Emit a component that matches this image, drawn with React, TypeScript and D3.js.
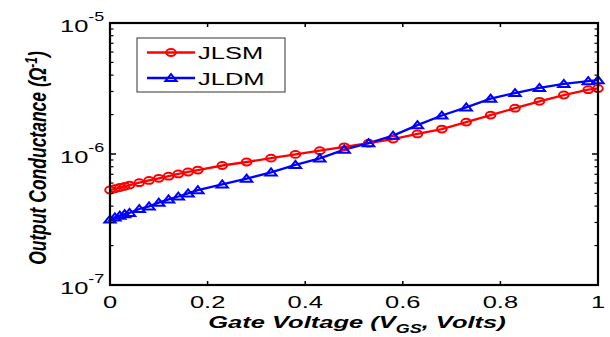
import React from "react";
import * as d3 from "d3";

const xVals = [0, 0.01, 0.02, 0.03, 0.04, 0.06, 0.08, 0.1, 0.12, 0.14, 0.16, 0.18, 0.23, 0.28, 0.33, 0.38, 0.43, 0.48, 0.53, 0.58, 0.63, 0.68, 0.73, 0.78, 0.83, 0.88, 0.93, 0.98, 1.0];
const jlsm = [5.31e-7, 5.43e-7, 5.55e-7, 5.67e-7, 5.79e-7, 6.04e-7, 6.28e-7, 6.52e-7, 6.77e-7, 7.04e-7, 7.29e-7, 7.54e-7, 8.17e-7, 8.69e-7, 9.3e-7, 9.93e-7, 1.06e-6, 1.135e-6, 1.209e-6, 1.301e-6, 1.423e-6, 1.551e-6, 1.752e-6, 1.981e-6, 2.237e-6, 2.525e-6, 2.82e-6, 3.096e-6, 3.162e-6];
const jldm = [3.162e-7, 3.287e-7, 3.387e-7, 3.471e-7, 3.551e-7, 3.803e-7, 3.988e-7, 4.249e-7, 4.502e-7, 4.738e-7, 5.003e-7, 5.3e-7, 5.87e-7, 6.48e-7, 7.25e-7, 8.25e-7, 9.26e-7, 1.08e-6, 1.211e-6, 1.381e-6, 1.662e-6, 1.967e-6, 2.272e-6, 2.643e-6, 2.921e-6, 3.2e-6, 3.435e-6, 3.6e-6, 3.658e-6];
const xTicks = [0, 0.2, 0.4, 0.6, 0.8, 1];
const xTickLabels = ["0", "0.2", "0.4", "0.6", "0.8", "1"];
const yMajor = [1e-7, 1e-6, 1e-5];
const yExps = ["-7", "-6", "-5"];
const seriesNames = ["JLSM", "JLDM"];

const L = 110, R = 598, T = 23, B = 285;
const SX = 1.5;
const FONT = "'Liberation Sans', Arial, Helvetica, sans-serif";

const x = d3.scaleLinear().domain([0, 1]).range([L, R]);
const y = d3.scaleLog().domain([1e-7, 1e-5]).range([B, T]);

const tri = (cx: number, cy: number) =>
  `M${cx},${cy - 4}L${cx + 5.6},${cy + 3.1}L${cx - 5.6},${cy + 3.1}Z`;

export default function App() {
  const line = d3.line<[number, number]>().x(d => x(d[0])).y(d => y(d[1]));
  const redPts: [number, number][] = xVals.map((v, i) => [v, jlsm[i]]);
  const bluePts: [number, number][] = xVals.map((v, i) => [v, jldm[i]]);
  const minor: number[] = [];
  for (let e = -7; e < -5; e++) for (let k = 2; k <= 9; k++) minor.push(k * Math.pow(10, e));

  return (
    <svg width={610} height={337} style={{ position: "absolute", left: 0, top: 0, background: "#fff" }}>
      <rect x={0} y={0} width={610} height={337} fill="#fff" />
      {/* data */}
      <path d={line(redPts) || ""} fill="none" stroke="#ff0000" strokeWidth={2.3} />
      <path d={line(bluePts) || ""} fill="none" stroke="#0000ff" strokeWidth={2.3} />
      {redPts.map((p, i) => (
        <ellipse key={"r" + i} cx={x(p[0])} cy={y(p[1])} rx={4.8} ry={3.4} fill="none" stroke="#ff0000" strokeWidth={2} />
      ))}
      {bluePts.map((p, i) => (
        <path key={"b" + i} d={tri(x(p[0]), y(p[1]))} fill="none" stroke="#0000ff" strokeWidth={2} strokeLinejoin="miter" />
      ))}
      {/* axes box */}
      <rect x={L} y={T} width={R - L} height={B - T} fill="none" stroke="#000" strokeWidth={2.2} />
      {/* x ticks */}
      {xTicks.map((t, i) => (
        <g key={"xt" + i}>
          <line x1={x(t)} x2={x(t)} y1={B} y2={B - 4} stroke="#000" strokeWidth={1.5} />
          <line x1={x(t)} x2={x(t)} y1={T} y2={T + 4} stroke="#000" strokeWidth={1.5} />
          <text transform={`translate(${x(t)},${B + 23}) scale(${SX},1)`} textAnchor="middle" fontFamily={FONT} fontSize={17} fill="#000">{xTickLabels[i]}</text>
        </g>
      ))}
      {/* y ticks */}
      {yMajor.map((t, i) => (
        <g key={"ym" + i}>
          <line x1={L} x2={L + 6} y1={y(t)} y2={y(t)} stroke="#000" strokeWidth={1.5} />
          <line x1={R} x2={R - 6} y1={y(t)} y2={y(t)} stroke="#000" strokeWidth={1.5} />
          <text transform={`translate(60,${y(t) + 9}) scale(${SX},1)`} fontFamily={FONT} fontSize={17} fill="#000">
            10<tspan fontSize={12} dy={-11.5}>{yExps[i]}</tspan>
          </text>
        </g>
      ))}
      {minor.map((t, i) => (
        <g key={"yn" + i}>
          <line x1={L} x2={L + 3.5} y1={y(t)} y2={y(t)} stroke="#000" strokeWidth={1.2} />
          <line x1={R} x2={R - 3.5} y1={y(t)} y2={y(t)} stroke="#000" strokeWidth={1.2} />
        </g>
      ))}
      {/* axis labels */}
      <text transform={`translate(357,328) scale(${SX},1)`} textAnchor="middle" fontFamily={FONT} fontSize={17} fontWeight="bold" fontStyle="italic" fill="#000">
        Gate Voltage (V<tspan fontSize={12} dy={5}>GS</tspan><tspan dy={-5}>,</tspan> Volts)
      </text>
      <text transform={`translate(46,158) scale(1.35,1) rotate(-90)`} textAnchor="middle" fontFamily={FONT} fontSize={17.5} fontWeight="bold" fontStyle="italic" fill="#000">
        Output Conductance (Ω<tspan fontSize={12} dy={-7}>-1</tspan><tspan dy={7}>)</tspan>
      </text>
      {/* legend */}
      <rect x={137} y={38} width={148} height={54} fill="#fff" stroke="#333" strokeWidth={1} />
      <line x1={147} x2={195} y1={52.5} y2={52.5} stroke="#ff0000" strokeWidth={2.3} />
      <ellipse cx={171} cy={52.5} rx={4.8} ry={3.4} fill="none" stroke="#ff0000" strokeWidth={2} />
      <line x1={147} x2={195} y1={78} y2={78} stroke="#0000ff" strokeWidth={2.3} />
      <path d={tri(171, 78)} fill="none" stroke="#0000ff" strokeWidth={2} />
      <text transform={`translate(198,59) scale(${SX},1)`} fontFamily={FONT} fontSize={17} fill="#000">{seriesNames[0]}</text>
      <text transform={`translate(198,85) scale(${SX},1)`} fontFamily={FONT} fontSize={17} fill="#000">{seriesNames[1]}</text>
    </svg>
  );
}
